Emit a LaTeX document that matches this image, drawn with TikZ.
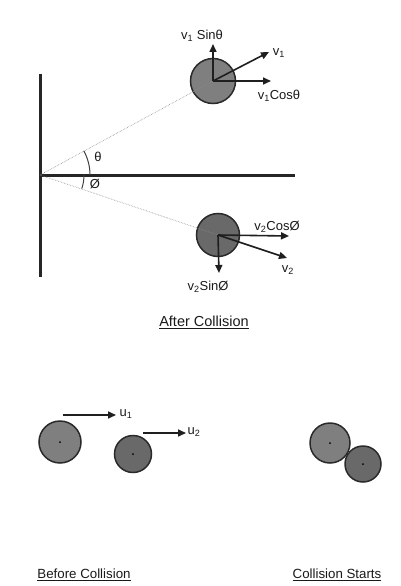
\documentclass[tikz,border=0pt]{standalone}
\usepackage{fontspec}
\setmainfont{Liberation Sans}
\usetikzlibrary{arrows.meta}
\definecolor{ballA}{HTML}{7F7F7F}
\definecolor{ballB}{HTML}{696969}
\definecolor{edge}{HTML}{2A2A2A}
\tikzset{
  ball/.style={circle, draw=edge, line width=1.5pt, inner sep=0pt},
  vec/.style={line width=1.6pt, draw=black!88, -{Triangle[length=8pt,width=7pt]}},
  guide/.style={draw=black!45, line width=0.6pt, densely dotted},
  lbl/.style={font=\fontsize{13}{15}\selectfont, text=black!90, inner sep=0pt},
  captxt/.style={font=\fontsize{13.3}{16}\selectfont, text=black!90, inner sep=0pt},
  bigcap/.style={font=\fontsize{14.5}{17}\selectfont, text=black!90, inner sep=0pt},
  wall/.style={line width=3pt, draw=black!85},
  anglearc/.style={line width=1pt, draw=black!75},
  cdot/.style={circle, fill=black, inner sep=0pt, minimum size=2pt}
}
\begin{document}
\begin{tikzpicture}[x=1pt,y=-1pt]
\useasboundingbox (0,0) rectangle (400,586);
% wall and floor
\coordinate (wt) at (40,74);
\coordinate (wb) at (40,277);
\coordinate (o) at (40,175);
\coordinate (he) at (295,175);
\draw[wall] (wt) -- (wb);
\draw[wall] (o) -- (he);
% after-collision balls
\node[ball, fill=ballA, minimum size=45pt] (t) at (213,81) {};
\node[ball, fill=ballB, minimum size=43pt] (b) at (218,235) {};
\draw[guide] (o) -- (t.center);
\draw[guide] (o) -- (b.center);
% angle arcs (y axis points down, so angles are mirrored)
\draw[anglearc] (o) ++(50,0) arc[start angle=0, end angle=-29, radius=50];
\draw[anglearc] (o) ++(44,0) arc[start angle=0, end angle=18, radius=44];
\node[lbl] (th) at (98,157) {θ};
\node[lbl] (ph) at (95,184) {Ø};
% top vectors
\coordinate (t1) at (269,52);
\coordinate (tc) at (271,81);
\coordinate (ts) at (213,44);
\draw[vec] (t.center) -- (t1);
\draw[vec] (t.center) -- (tc);
\draw[vec] (t.center) -- (ts);
\node[lbl] (lt1) at (279,53) {v\textsubscript{1}};
\node[lbl] (ltc) at (279,96) {v\textsubscript{1}Cosθ};
\node[lbl] (lts) at (202,36) {v\textsubscript{1} Sinθ};
% bottom vectors
\coordinate (b1) at (287,258);
\coordinate (bc) at (289,236);
\coordinate (bs) at (219,273);
\draw[vec] (b.center) -- (b1);
\draw[vec] (b.center) -- (bc);
\draw[vec] (b.center) -- (bs);
\node[lbl] (lb1) at (288,270) {v\textsubscript{2}};
\node[lbl] (lbc) at (277,227) {v\textsubscript{2}CosØ};
\node[lbl] (lbs) at (208,287) {v\textsubscript{2}SinØ};
\node[bigcap] (after) at (204,322) {\underline{After Collision}};
% before collision
\node[ball, fill=ballA, minimum size=42pt] (p) at (60,442) {};
\node[ball, fill=ballB, minimum size=37pt] (q) at (133,454) {};
\node[cdot] at (p.center) {};
\node[cdot] at (q.center) {};
\coordinate (u1s) at (63,415);
\coordinate (u1e) at (116,415);
\coordinate (u2s) at (143,433);
\coordinate (u2e) at (186,433);
\draw[vec] (u1s) -- (u1e);
\draw[vec] (u2s) -- (u2e);
\node[lbl] (lu1) at (126,414) {u\textsubscript{1}};
\node[lbl] (lu2) at (194,432) {u\textsubscript{2}};
\node[captxt] (before) at (84,575) {\underline{Before Collision}};
% collision starts
\node[ball, fill=ballA, minimum size=40pt] (r) at (330,443) {};
\node[ball, fill=ballB, minimum size=36pt] (s) at (363,464) {};
\node[cdot] at (r.center) {};
\node[cdot] at (s.center) {};
\node[captxt] (starts) at (337,575) {\underline{Collision Starts}};
\end{tikzpicture}
\end{document}
